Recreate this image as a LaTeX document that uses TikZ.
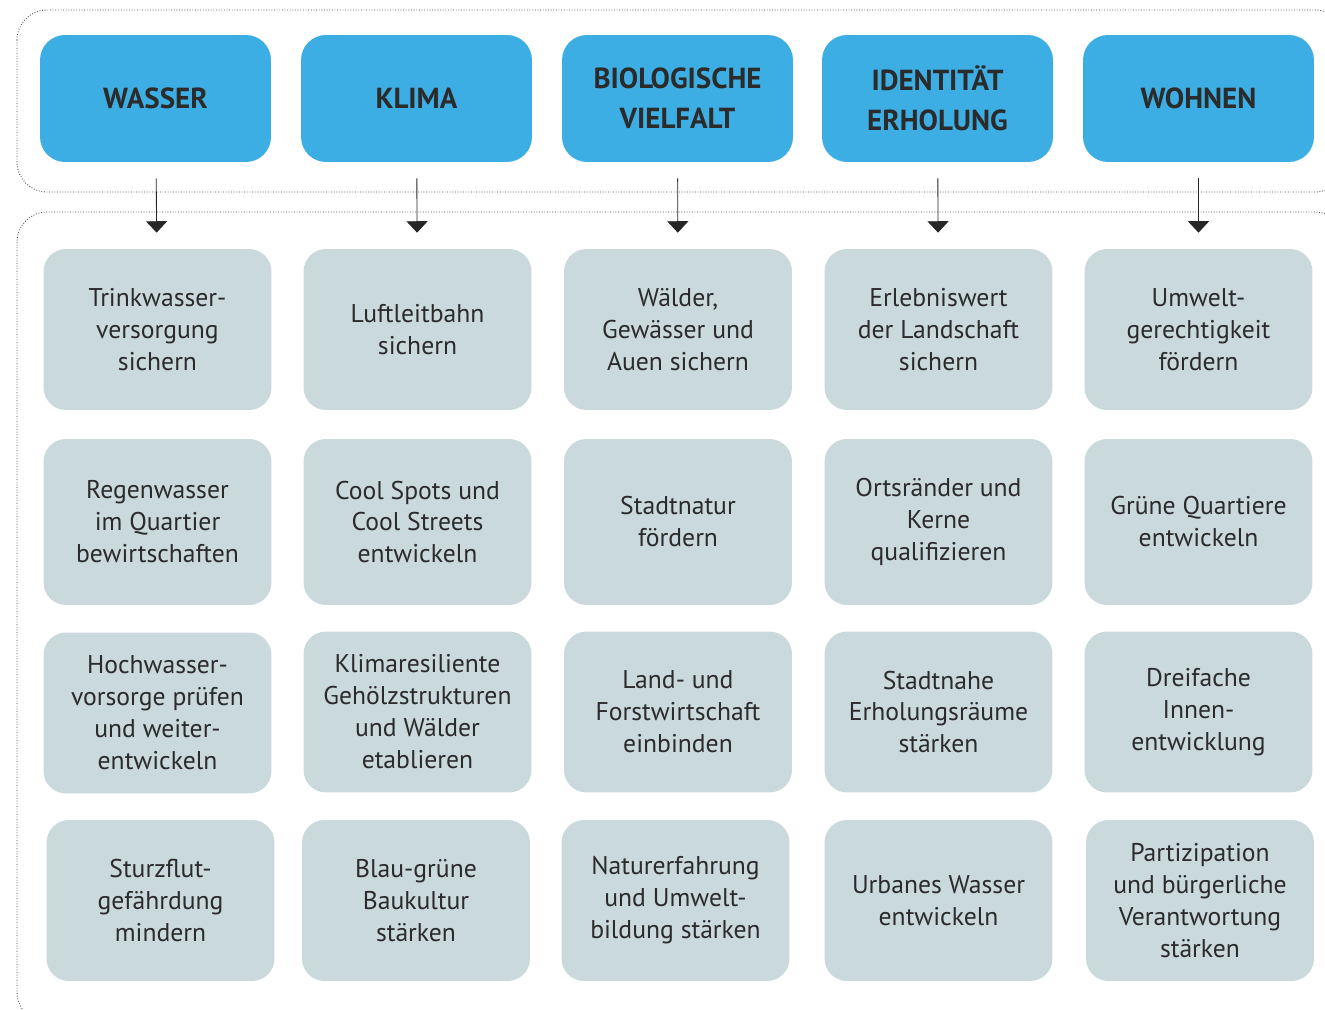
\documentclass[tikz,border=0pt]{standalone}
\usepackage{fontspec}
\setmainfont{PT Sans}
\usetikzlibrary{positioning, arrows.meta}

\definecolor{headblue}{HTML}{3DAEE3}
\definecolor{boxgrey}{HTML}{C9D9DC}
\definecolor{textgrey}{HTML}{2B2B2B}

\begin{document}
\begin{tikzpicture}[
    x=0.02cm, y=-0.02cm,
    head/.style={fill=headblue, rounded corners=0.5cm, minimum width=4.62cm, minimum height=2.54cm,
        align=center, text=textgrey, font=\fontsize{16.5}{22.8}\selectfont\bfseries},
    aim/.style={fill=boxgrey, rounded corners=0.45cm, minimum width=4.56cm, minimum height=3.22cm,
        align=center, text=textgrey, font=\fontsize{14.6}{18.2}\selectfont},
    frame/.style={draw=black!70, densely dotted, line width=0.5pt, rounded corners=0.6cm},
    link/.style={-{Triangle[width=12pt, length=6.5pt]}, draw=black!85, line width=0.5pt,
        shorten <=0.32cm, shorten >=0.32cm}
  ]
  \useasboundingbox (0,0) rectangle (1325,1010);
  \begin{scope}
    \clip (0,0) rectangle (1325,1010);
    \draw [frame] (17,10) rectangle (1345,192);
    \draw [frame] (17,212) rectangle (1345,1022);
  \end{scope}

  % themes
  \node [head] (wasser) at (155.5,98.5) {WASSER};
  \node [head] (klima) at (416.5,98.5) {KLIMA};
  \node [head] (vielfalt) at (677.5,98.5) {BIOLOGISCHE\\VIELFALT};
  \node [head] (identitaet) at (937.5,98.5) {IDENTITÄT\\ERHOLUNG};
  \node [head] (wohnen) at (1198.5,98.5) {WOHNEN};

  % row 1
  \node [aim] (w1) at (157.5,329.5) {Trinkwasser-\\versorgung\\sichern};
  \node [aim] (k1) at (417.5,329.5) {Luftleitbahn\\sichern};
  \node [aim] (v1) at (678,329.5) {Wälder,\\Gewässer und\\Auen sichern};
  \node [aim] (i1) at (938.5,329.5) {Erlebniswert\\der Landschaft\\sichern};
  \node [aim] (h1) at (1198.5,329.5) {Umwelt-\\gerechtigkeit\\fördern};

  % row 2
  \node [aim, minimum height=3.32cm] (w2) at (157.5,522) {Regenwasser\\im Quartier\\bewirtschaften};
  \node [aim, minimum height=3.32cm] (k2) at (417.5,522) {Cool Spots und\\Cool Streets\\entwickeln};
  \node [aim, minimum height=3.32cm] (v2) at (678,522) {Stadtnatur\\fördern};
  \node [aim, minimum height=3.32cm] (i2) at (938.5,522) {Ortsränder und\\Kerne\\qualifizieren};
  \node [aim, minimum height=3.32cm] (h2) at (1198.5,522) {Grüne Quartiere\\entwickeln};

  % row 3
  \node [aim] (w3) at (157.5,713) {Hochwasser-\\vorsorge prüfen\\und weiter-\\entwickeln};
  \node [aim] (k3) at (417.5,712) {Klimaresiliente\\Gehölzstrukturen\\und Wälder\\etablieren};
  \node [aim] (v3) at (678,712) {Land- und\\Forstwirtschaft\\einbinden};
  \node [aim] (i3) at (938.5,712) {Stadtnahe\\Erholungsräume\\stärken};
  \node [aim] (h3) at (1198.5,712) {Dreifache\\Innen-\\entwicklung};

  % row 4
  \node [aim] (w4) at (160.5,900.5) {Sturzflut-\\gefährdung\\mindern};
  \node [aim] (k4) at (416,900.5) {Blau-grüne\\Baukultur\\stärken};
  \node [aim] (v4) at (675.5,900.5) {Naturerfahrung\\und Umwelt-\\bildung stärken};
  \node [aim] (i4) at (938.5,900.5) {Urbanes Wasser\\entwickeln};
  \node [aim] (h4) at (1200,900.5) {Partizipation\\und bürgerliche\\Verantwortung\\stärken};

  \draw [link] (wasser) -- (w1);
  \draw [link] (klima) -- (k1);
  \draw [link] (vielfalt) -- (v1);
  \draw [link] (identitaet) -- (i1);
  \draw [link] (wohnen) -- (h1);
\end{tikzpicture}
\end{document}
